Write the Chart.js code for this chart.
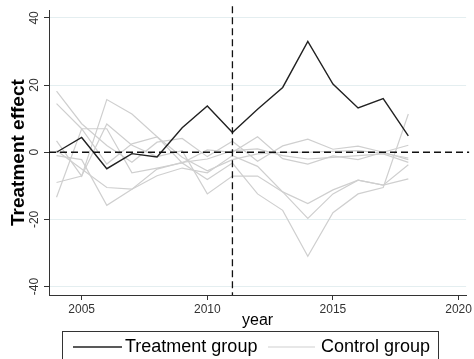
<!DOCTYPE html>
<html>
<head>
<meta charset="utf-8">
<script src="https://cdn.jsdelivr.net/npm/chart.js@4/dist/chart.umd.min.js"></script>
<style>
  html, body { margin: 0; padding: 0; background: #fff; }
  #wrap { width: 474px; height: 359px; }
</style>
</head>
<body>
<div id="wrap"><canvas id="chart" width="474" height="359"></canvas></div>
<script>
// data
const years = [2004, 2005, 2006, 2007, 2008, 2009, 2010, 2011, 2012, 2013, 2014, 2015, 2016, 2017, 2018];
const treatment = [0, 4.4, -4.9, -0.4, -1.4, 7.3, 13.8, 5.9, 12.8, 19.3, 33.0, 20.3, 13.2, 16.0, 4.9];
const control1 = [18.2, 8.5, 2, -3, 3, 4.1, -1.3, 3.3, -2.7, 1.9, 3.9, 0.9, 1.8, 0, -2.2];
const control2 = [14.5, 7, -3.5, 2.5, 4.6, -3.2, 0.7, 0, 4.6, -1.9, -3.5, -1.1, -2.2, 0, 2.1];
const control3 = [3.4, -7.1, 15.7, 11.4, 4.6, -1.5, -5.5, -2.2, -0.5, 0, 0, 0.3, 0.5, -0.3, -1.7];
const control4 = [-13.4, 7, 7, -6.1, -4.7, -3.2, -8.1, -3.2, -12.4, -17.3, -31, -18, -12.4, -10.5, 11.4];
const control5 = [-9, -7.1, 8.4, 2.1, -1.3, 0.5, -12.4, -7.1, -7.1, -11.8, -19.7, -12.4, -8.3, -9.8, -3.7];
const control6 = [-1, -2.2, -15.8, -11, -7, -4.7, -6.1, -1, -4.2, -11.8, -15.3, -11.2, -8.3, -9.8, -7.9];
const control7 = [0.5, -5, -10.5, -11, -5, -3, -2, 0.5, 1, -1, -2, -1.5, -1, -0.5, -3];
const controls = [control1, control2, control3, control4, control5, control6, control7];
const xTicks = [2005, 2010, 2015, 2020];
const yTicks = [-40, -20, 0, 20, 40];
const treatYear = 2011;

const FONT = "'Liberation Sans', Arial, sans-serif";
const GRAY = '#cfcfcf';
const DARK = '#222';

function pts(vals) {
  return years.map((y, i) => ({ x: y, y: vals[i] }));
}

const datasets = [{
  label: 'Treatment group',
  data: pts(treatment),
  borderColor: DARK,
  borderWidth: 1.4,
  order: 0
}];
controls.forEach((c, i) => {
  datasets.push({
    label: i === 0 ? 'Control group' : 'control' + (i + 1),
    data: pts(c),
    borderColor: GRAY,
    borderWidth: 1.2,
    order: 1
  });
});

// dashed reference lines, rotated y labels and boxed legend
const extras = {
  id: 'extras',
  afterDatasetsDraw(chart) {
    const { ctx, chartArea: a, scales: { x, y } } = chart;
    ctx.save();
    ctx.strokeStyle = '#111';
    ctx.lineWidth = 1.3;
    ctx.setLineDash([7, 4]);
    const px = x.getPixelForValue(treatYear);
    ctx.beginPath();
    ctx.moveTo(px, a.top - 4);
    ctx.lineTo(px, a.bottom);
    ctx.stroke();
    const py = y.getPixelForValue(0);
    ctx.beginPath();
    ctx.moveTo(a.left, py);
    ctx.lineTo(a.right + 3, py);
    ctx.stroke();
    ctx.restore();
  },
  afterDraw(chart) {
    const { ctx, scales: { y } } = chart;
    ctx.save();
    ctx.fillStyle = '#333';
    ctx.font = '12px ' + FONT;
    ctx.textAlign = 'center';
    ctx.textBaseline = 'middle';
    yTicks.forEach(v => {
      ctx.save();
      ctx.translate(35, y.getPixelForValue(v));
      ctx.rotate(-Math.PI / 2);
      ctx.fillText(String(v), 0, 0);
      ctx.restore();
    });
    // legend
    ctx.strokeStyle = '#333';
    ctx.lineWidth = 1;
    ctx.strokeRect(62.5, 331.5, 376, 40);
    ctx.font = '18px ' + FONT;
    ctx.textAlign = 'left';
    ctx.fillStyle = '#000';
    const ly = 347;
    const items = [
      { ds: chart.data.datasets[0], x0: 73, x1: 122, tx: 125 },
      { ds: chart.data.datasets[1], x0: 268, x1: 315, tx: 321 }
    ];
    items.forEach(it => {
      ctx.strokeStyle = it.ds.borderColor;
      ctx.lineWidth = it.ds.borderWidth;
      ctx.beginPath();
      ctx.moveTo(it.x0, ly);
      ctx.lineTo(it.x1, ly);
      ctx.stroke();
      ctx.fillText(it.ds.label, it.tx, ly);
    });
    ctx.restore();
  }
};

new Chart(document.getElementById('chart'), {
  type: 'line',
  data: { datasets },
  options: {
    responsive: false,
    animation: false,
    layout: { padding: { top: 4, right: 4, left: 0, bottom: 29 } },
    elements: { point: { radius: 0 }, line: { tension: 0 } },
    plugins: { legend: { display: false }, tooltip: { enabled: false } },
    scales: {
      x: {
        type: 'linear',
        min: 2003.7,
        max: 2020.3,
        afterBuildTicks: s => { s.ticks = xTicks.map(v => ({ value: v })); },
        afterFit: s => { s.height = 35; },
        ticks: { color: '#333', font: { family: FONT, size: 12 }, padding: 2, callback: v => String(v), maxRotation: 0 },
        grid: { drawOnChartArea: false, tickLength: 5, tickColor: '#333' },
        border: { color: '#333', width: 1 },
        title: { display: true, text: 'year', color: '#000', font: { family: FONT, size: 16 }, padding: { top: 0, bottom: 0 } }
      },
      y: {
        min: -42.5,
        max: 42.3,
        afterBuildTicks: s => { s.ticks = yTicks.map(v => ({ value: v })); },
        afterFit: s => { s.width = 49; },
        ticks: { color: 'rgba(0,0,0,0)', font: { family: FONT, size: 12 } },
        grid: {
          color: c => (c.tick && c.tick.value === 0) ? 'rgba(0,0,0,0)' : '#e4eef0',
          tickLength: 5,
          tickColor: '#333'
        },
        border: { color: '#333', width: 1 },
        title: { display: true, text: 'Treatment effect', color: '#000', font: { family: FONT, size: 19, weight: 'bold' }, padding: { top: 7, bottom: 0 } }
      }
    }
  },
  plugins: [extras]
});
</script>
</body>
</html>
